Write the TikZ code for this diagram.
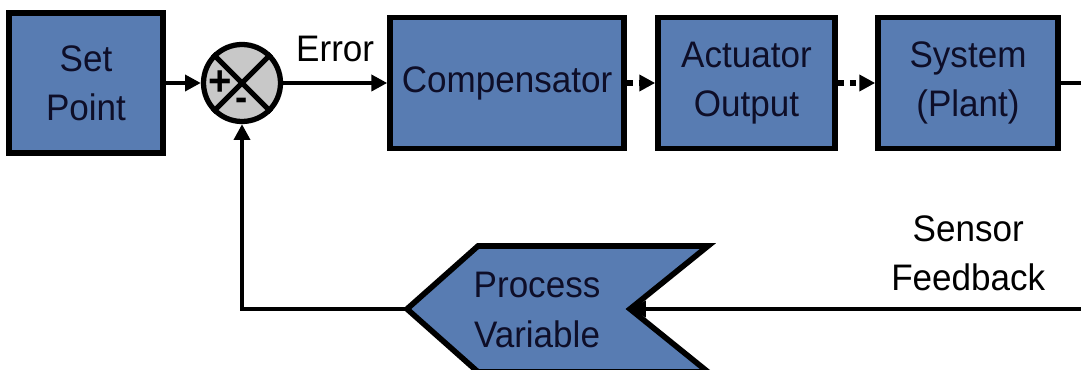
\documentclass[tikz,border=0pt]{standalone}
\usepackage{fontspec}
\setmainfont{Liberation Sans}[FakeStretch=0.95]
\usetikzlibrary{arrows.meta}
\definecolor{boxblue}{RGB}{88,124,178}
\definecolor{sumgray}{RGB}{200,200,200}
\definecolor{textnavy}{RGB}{14,14,40}

\begin{document}
\begin{tikzpicture}[
    blockbox/.style={draw, fill=boxblue, line width=1.6pt, text=textnavy, align=center, minimum height=1.31cm},
    sumnode/.style={draw, fill=sumgray, circle, line width=1.5pt, minimum size=0.77cm, inner sep=0pt},
    conn/.style={line width=1.4pt, -{Triangle[length=4.5pt,width=4.5pt]}},
    dotconn/.style={line width=1.6pt, dash pattern=on 1.7pt off 1.7pt, -{Triangle[length=4.5pt,width=4.5pt]}},
    font=\fontsize{10.5}{14}\selectfont
]
    \useasboundingbox (0,0) rectangle (10.81,3.70);

    % top row
    \node[blockbox, minimum width=1.54cm, minimum height=1.40cm] (sp) at (0.86,2.87) {Set\\Point};
    \node[sumnode, right of=sp, node distance=1.56cm] (sum) {};
    \node[blockbox, minimum width=2.30cm, right of=sum, node distance=2.65cm] (comp) {Compensator};
    \node[blockbox, minimum width=1.77cm, right of=comp, node distance=2.395cm] (act) {Actuator\\Output};
    \node[blockbox, minimum width=1.80cm, right of=act, node distance=2.215cm] (sys) {System\\(Plant)};
    \coordinate (out) at (10.81,2.87);

    % summing junction
    \draw[line width=1.5pt] (sum.north west) -- (sum.south east) (sum.north east) -- (sum.south west);
    \node[font=\fontsize{12}{12}\bfseries, inner sep=0pt] (plus) at ([xshift=-0.22cm]sum.center) {+};
    \node[font=\fontsize{11}{11}\bfseries, inner sep=0pt] (minus) at ([yshift=-0.21cm]sum.center) {-};

    % feedback
    \coordinate (fb) at (10.81,0.61);
    \coordinate (pvtip) at (4.07,0.61);
    \coordinate (pvnotch) at (6.30,0.61);
    \draw[fill=boxblue, line width=1.6pt] (pvtip) -- (4.78,1.24) -- (7.08,1.24) -- (pvnotch) -- (7.08,-0.02) -- (4.78,-0.02) -- cycle;
    \node[text=textnavy, align=center] (pv) at (5.37,0.60) {Process\\Variable};

    \draw[conn] (sp) -- (sum);
    \draw[conn] (sum) -- node[above=2pt] (err) {Error} (comp);
    \draw[dotconn] (comp) -- (act);
    \draw[dotconn] (act) -- (sys);
    \draw[line width=1.4pt] (sys) -- (out);
    \draw[conn] (fb) -- node[above=1pt, pos=0.25, align=center] (fblabel) {Sensor\\Feedback} (pvnotch);
    \draw[conn] (pvtip) -| (sum.south);
\end{tikzpicture}
\end{document}
